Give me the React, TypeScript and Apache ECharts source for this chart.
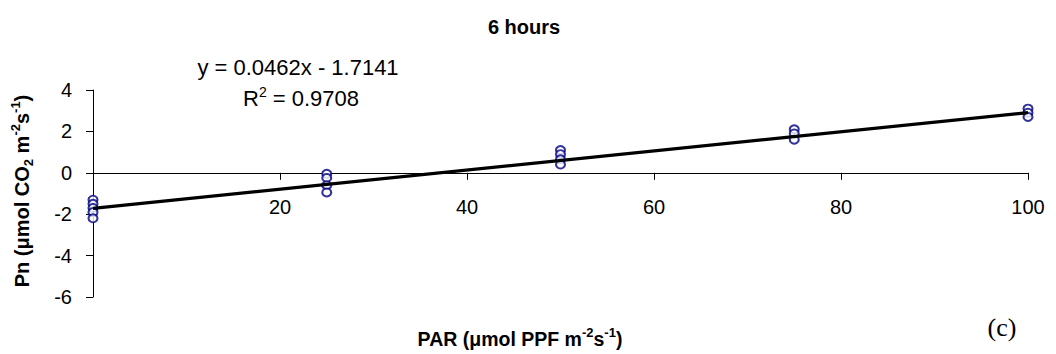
import React, { useEffect, useRef } from "react";
import * as echarts from "echarts";

// ---- data ----
const parLevels = [0, 25, 50, 75, 100];
const pnAt0 = [-1.3, -1.5, -1.7, -1.9, -2.2];
const pnAt25 = [-0.05, -0.25, -0.6, -0.95];
const pnAt50 = [1.1, 0.9, 0.65, 0.4];
const pnAt75 = [2.1, 1.9, 1.6];
const pnAt100 = [3.1, 2.9, 2.7];
const pnGroups = [pnAt0, pnAt25, pnAt50, pnAt75, pnAt100];

// trendline as printed on the chart: y = 0.0462x - 1.7141
const trendSlope = 0.0462;
const trendIntercept = -1.7141;
const trendX = [0, 100];

const xTicks = [0, 20, 40, 60, 80, 100];
const yTicks = [-6, -4, -2, 0, 2, 4];

const titleText = "6 hours";
const eqLine1 = "y = 0.0462x - 1.7141";
const eqLine2 = "{n|R}{sup|2}{n| = 0.9708}";
const panelLabel = "(c)";

const SANS = "'Liberation Sans', Arial, Helvetica, sans-serif";
const SERIF = "'Liberation Serif', 'Times New Roman', serif";

export default function App() {
  const ref = useRef<HTMLDivElement>(null);

  useEffect(() => {
    if (!ref.current) return;
    const chart = echarts.init(ref.current, undefined, { renderer: "svg" });

    const scatterData: number[][] = [];
    parLevels.forEach((x, i) => {
      pnGroups[i].forEach((y) => scatterData.push([x, y]));
    });
    const trendData = trendX.map((x) => [x, trendSlope * x + trendIntercept]);

    const xMin = xTicks[0];
    const xMax = xTicks[xTicks.length - 1];
    const yMin = yTicks[0];
    const yMax = yTicks[yTicks.length - 1];

    const option: any = {
      animation: false,
      textStyle: { fontFamily: SANS },
      grid: [
        // main plot area
        { left: 93, right: 28, top: 90, height: 207 },
        // upper part (down to y = 0) used only to draw the x axis on the zero line
        { left: 93, right: 28, top: 90, height: (207 * yMax) / (yMax - yMin) },
      ],
      xAxis: [
        {
          gridIndex: 0,
          type: "value",
          min: xMin,
          max: xMax,
          interval: 20,
          axisLine: { show: false },
          axisTick: { show: false },
          axisLabel: { show: false },
          splitLine: { show: false },
        },
        {
          gridIndex: 1,
          type: "value",
          position: "bottom",
          min: xMin,
          max: xMax,
          interval: 20,
          axisLine: { show: true, onZero: false, lineStyle: { color: "#000", width: 1 } },
          axisTick: { show: true, length: 7, inside: false, lineStyle: { color: "#000" } },
          splitLine: { show: false },
          axisLabel: {
            fontSize: 20,
            color: "#000",
            fontFamily: SANS,
            margin: 24,
            formatter: (v: number) => (v === 0 ? "" : String(v)),
          },
        },
      ],
      yAxis: [
        {
          gridIndex: 0,
          type: "value",
          min: yMin,
          max: yMax,
          interval: 2,
          axisLine: { show: true, onZero: false, lineStyle: { color: "#000", width: 1 } },
          axisTick: { show: true, length: 7, inside: false, lineStyle: { color: "#000" } },
          splitLine: { show: false },
          axisLabel: { fontSize: 20, color: "#000", fontFamily: SANS, margin: 21 },
        },
        {
          gridIndex: 1,
          type: "value",
          min: 0,
          max: yMax,
          show: false,
        },
      ],
      series: [
        {
          type: "scatter",
          xAxisIndex: 0,
          yAxisIndex: 0,
          data: scatterData,
          symbol: "emptyCircle",
          symbolSize: [9, 8],
          itemStyle: { color: "#000080", borderColor: "#000080", borderWidth: 2.3 },
          z: 2,
        },
        {
          type: "line",
          xAxisIndex: 0,
          yAxisIndex: 0,
          data: trendData,
          showSymbol: false,
          symbol: "none",
          lineStyle: { color: "#000", width: 3.3 },
          z: 3,
        },
      ],
      graphic: [
        {
          type: "text",
          x: 524,
          y: 27,
          style: {
            text: titleText,
            fontSize: 20,
            fontWeight: "bold",
            fontFamily: SANS,
            fill: "#000",
            align: "center",
            verticalAlign: "middle",
          },
        },
        {
          type: "text",
          x: 298,
          y: 67,
          style: {
            text: eqLine1,
            fontSize: 22,
            fontFamily: SANS,
            fill: "#000",
            align: "center",
            verticalAlign: "middle",
          },
        },
        {
          type: "text",
          x: 301,
          y: 98,
          style: {
            text: eqLine2,
            fill: "#000",
            align: "center",
            verticalAlign: "middle",
            rich: {
              n: { fontSize: 22, fontFamily: SANS, fill: "#000", lineHeight: 26 },
              sup: { fontSize: 14, fontFamily: SANS, fill: "#000", verticalAlign: "top", lineHeight: 14 },
            },
          },
        },
        {
          type: "text",
          x: 22,
          y: 191,
          rotation: Math.PI / 2,
          style: {
            text: "{b|Pn (μmol CO}{bsub|2}{b| m}{bsup|-2}{b|s}{bsup|-1}{b|)}",
            fill: "#000",
            align: "center",
            verticalAlign: "middle",
            rich: {
              b: { fontSize: 20, fontWeight: "bold", fontFamily: SANS, fill: "#000", lineHeight: 26 },
              bsub: { fontSize: 13, fontWeight: "bold", fontFamily: SANS, fill: "#000", verticalAlign: "bottom", lineHeight: 14 },
              bsup: { fontSize: 13, fontWeight: "bold", fontFamily: SANS, fill: "#000", verticalAlign: "top", lineHeight: 14 },
            },
          },
        },
        {
          type: "text",
          x: 520,
          y: 339,
          style: {
            text: "{b|PAR (μmol PPF m}{bsup|-2}{b|s}{bsup|-1}{b|)}",
            fill: "#000",
            align: "center",
            verticalAlign: "middle",
            rich: {
              b: { fontSize: 19.5, fontWeight: "bold", fontFamily: SANS, fill: "#000", lineHeight: 26 },
              bsup: { fontSize: 13, fontWeight: "bold", fontFamily: SANS, fill: "#000", verticalAlign: "top", lineHeight: 14 },
            },
          },
        },
        {
          type: "text",
          x: 1002,
          y: 327,
          style: {
            text: panelLabel,
            fontSize: 26,
            fontFamily: SERIF,
            fill: "#000",
            align: "center",
            verticalAlign: "middle",
          },
        },
      ],
    };

    chart.setOption(option);
    return () => chart.dispose();
  }, []);

  return (
    <div
      ref={ref}
      style={{ position: "fixed", left: 0, top: 0, width: 1056, height: 354, background: "#fff" }}
    />
  );
}
